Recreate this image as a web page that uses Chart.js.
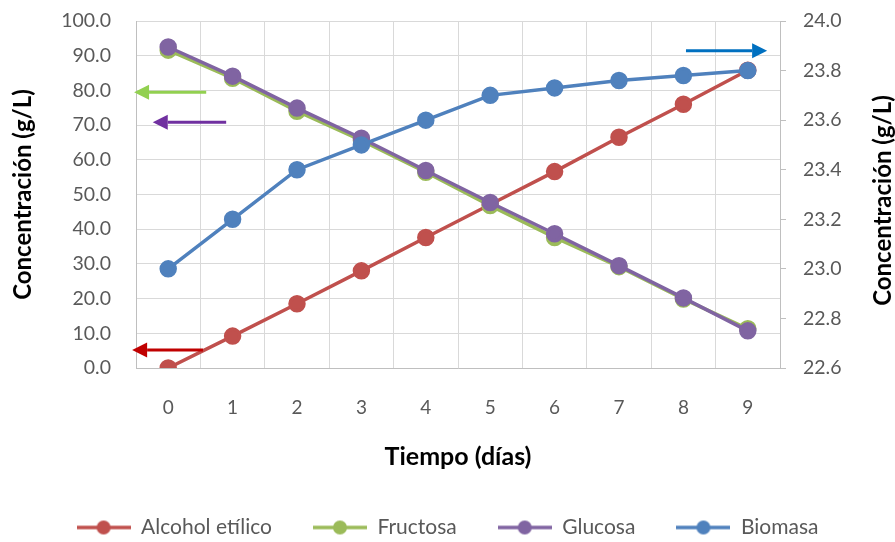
<!DOCTYPE html>
<html>
<head>
<meta charset="utf-8">
<script src="https://cdn.jsdelivr.net/npm/chart.js@4/dist/chart.umd.min.js"></script>
<style>
  html, body { margin: 0; padding: 0; background: #ffffff; }
  #wrap { width: 895px; height: 542px; position: relative; }
</style>
</head>
<body>
<div id="wrap"><canvas id="chart"></canvas></div>
<script>
// Fermentation time course: sugars consumed, ethanol and biomass produced
const dias = ['0', '1', '2', '3', '4', '5', '6', '7', '8', '9'];
const alcoholEtilico = [0.0, 9.2, 18.5, 28.0, 37.6, 47.1, 56.6, 66.5, 76.0, 85.8];
const fructosa = [91.6, 83.5, 74.0, 65.6, 56.4, 46.8, 37.6, 29.2, 19.9, 11.3];
const glucosa = [92.5, 84.1, 74.9, 66.2, 56.9, 47.7, 38.7, 29.5, 20.2, 10.7];
const biomasa = [23.0, 23.2, 23.4, 23.5, 23.6, 23.7, 23.73, 23.76, 23.78, 23.8];

const FONT = 'Lato, "Liberation Sans", sans-serif';
const TEXT = '#595959';
const Y_TITLE_SIZE = 24;
const X_TITLE_SIZE = 25;

// Axis-pointing arrows telling which scale each series belongs to
// (x in category units, y in the units of the named axis)
const axisArrows = [
  { color: '#92D050', axis: 'y',  value: 79.5,  from: 0.59, to: -0.53 },
  { color: '#7030A0', axis: 'y',  value: 70.8,  from: 0.90, to: -0.24 },
  { color: '#C00000', axis: 'y',  value: 5.2,   from: 0.54, to: -0.56 },
  { color: '#0070C0', axis: 'y2', value: 23.88, from: 8.04, to: 9.30 }
];

// Small line+marker swatch used as legend symbol
function swatch(color) {
  const c = document.createElement('canvas');
  c.width = 54; c.height = 16;
  const g = c.getContext('2d');
  g.strokeStyle = color; g.lineWidth = 3.5;
  g.beginPath(); g.moveTo(0, 8); g.lineTo(54, 8); g.stroke();
  g.fillStyle = color;
  g.beginPath(); g.arc(27, 8, 7, 0, Math.PI * 2); g.fill();
  return c;
}

const arrowPlugin = {
  id: 'axisArrows',
  afterDatasetsDraw(chart) {
    const ctx = chart.ctx;
    const xs = chart.scales.x;
    axisArrows.forEach(a => {
      const ys = chart.scales[a.axis];
      const y = ys.getPixelForValue(a.value);
      const x0 = xs.getPixelForValue(a.from);
      const x1 = xs.getPixelForValue(a.to);
      const dir = Math.sign(x1 - x0);
      const head = 15, half = 7.5;
      ctx.save();
      ctx.strokeStyle = a.color;
      ctx.fillStyle = a.color;
      ctx.lineWidth = 3;
      ctx.beginPath();
      ctx.moveTo(x0, y);
      ctx.lineTo(x1 - dir * head, y);
      ctx.stroke();
      ctx.beginPath();
      ctx.moveTo(x1, y);
      ctx.lineTo(x1 - dir * head, y - half);
      ctx.lineTo(x1 - dir * head, y + half);
      ctx.closePath();
      ctx.fill();
      ctx.restore();
    });
  }
};

// Secondary axis title, reading bottom-to-top like the primary one
const rightTitlePlugin = {
  id: 'rightTitle',
  afterDraw(chart) {
    const ctx = chart.ctx;
    const area = chart.chartArea;
    ctx.save();
    ctx.translate(chart.width - 12, (area.top + area.bottom) / 2 + 6);
    ctx.rotate(-Math.PI / 2);
    ctx.font = 'bold ' + Y_TITLE_SIZE + 'px ' + FONT;
    ctx.fillStyle = '#000000';
    ctx.textAlign = 'center';
    ctx.textBaseline = 'middle';
    ctx.fillText('Concentración (g/L)', 0, 0);
    ctx.restore();
  }
};

// Keep the plot edge fixed: no extra room reserved for end tick labels
function fixWidth(w) {
  return s => { s.width = w; s.paddingTop = 0; s.paddingBottom = 0; };
}

function lineSet(label, data, color, axis, order) {
  return {
    label, data, yAxisID: axis, order,
    borderColor: color, backgroundColor: color,
    borderWidth: 3.5, pointRadius: 7, pointHoverRadius: 7,
    pointBackgroundColor: color, pointBorderColor: color,
    pointStyle: 'circle', tension: 0,
    legendSymbol: swatch(color)
  };
}

new Chart(document.getElementById('chart'), {
  type: 'line',
  data: {
    labels: dias,
    datasets: [
      lineSet('Alcohol etílico', alcoholEtilico, '#C0504D', 'y', 4),
      lineSet('Fructosa', fructosa, '#9BBB59', 'y', 3),
      lineSet('Glucosa', glucosa, '#8064A2', 'y', 2),
      lineSet('Biomasa', biomasa, '#4F81BD', 'y2', 1)
    ]
  },
  options: {
    responsive: true,
    maintainAspectRatio: false,
    animation: false,
    layout: { padding: { top: 21, right: 0, bottom: -6, left: 0 } },
    plugins: {
      tooltip: { enabled: false },
      legend: {
        position: 'bottom',
        labels: {
          usePointStyle: true,
          pointStyleWidth: 54,
          padding: 41,
          color: TEXT,
          font: { family: FONT, size: 21 },
          generateLabels(chart) {
            return chart.data.datasets.map((ds, i) => ({
              text: ds.label,
              fillStyle: ds.borderColor,
              strokeStyle: ds.borderColor,
              fontColor: TEXT,
              pointStyle: ds.legendSymbol,
              lineWidth: 0,
              datasetIndex: i,
              hidden: false
            }));
          }
        }
      }
    },
    scales: {
      x: {
        type: 'category',
        offset: true,
        grid: { offset: true, color: '#D9D9D9', lineWidth: 1, drawTicks: false },
        border: { color: '#BFBFBF', width: 1 },
        ticks: { color: TEXT, font: { family: FONT, size: 19 }, padding: 28 },
        title: {
          display: true, text: 'Tiempo (días)', color: '#000000',
          font: { family: FONT, size: X_TITLE_SIZE, weight: 'bold' },
          padding: { top: 4, bottom: 4 }
        },
        afterFit(s) { s.height = 108; }
      },
      y: {
        position: 'left',
        min: 0, max: 100,
        grid: { color: '#D9D9D9', lineWidth: 1, drawTicks: false },
        border: { color: '#BFBFBF', width: 1 },
        ticks: {
          stepSize: 10, color: TEXT, padding: 25,
          font: { family: FONT, size: 19.5 },
          callback: v => Number(v).toFixed(1)
        },
        title: {
          display: true, text: 'Concentración (g/L)', color: '#000000',
          font: { family: FONT, size: Y_TITLE_SIZE, weight: 'bold' },
          padding: { top: 9, bottom: 0 }
        },
        afterFit: fixWidth(136)
      },
      y2: {
        position: 'right',
        min: 22.6, max: 24.0,
        grid: { drawOnChartArea: false, color: '#BFBFBF', tickLength: 6 },
        border: { color: '#BFBFBF', width: 1 },
        ticks: {
          stepSize: 0.2, color: TEXT, padding: 17,
          font: { family: FONT, size: 19.5 },
          callback: v => Number(v).toFixed(1)
        },
        afterFit: fixWidth(115)
      }
    }
  },
  plugins: [arrowPlugin, rightTitlePlugin]
});
</script>
</body>
</html>
